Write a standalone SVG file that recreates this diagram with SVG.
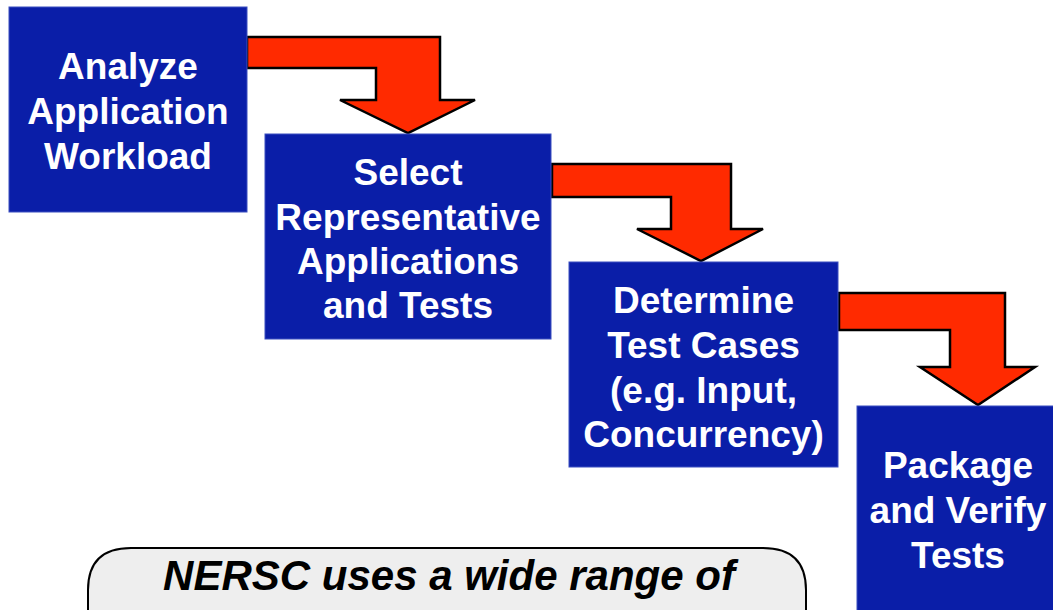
<svg xmlns="http://www.w3.org/2000/svg" width="1053" height="610" viewBox="0 0 1053 610">
<style>
.node{fill:#0A1EA8;stroke:#3A4EC0;stroke-width:1}
.lbl{font-family:"Liberation Sans",Arial,sans-serif;font-weight:bold;font-size:37px;fill:#ffffff;text-anchor:middle}
.arr{fill:#FF2A00;stroke:#000000;stroke-width:2.5;stroke-linejoin:miter}
.note{fill:#EEEEEE;stroke:#000000;stroke-width:2}
.notetxt{font-family:"Liberation Sans",Arial,sans-serif;font-weight:bold;font-style:italic;font-size:42px;fill:#000000;text-anchor:middle}
</style>
<rect width="1053" height="610" fill="#ffffff"/>
<g id="connectors">
<path class="arr" d="M247,37 L440,37 L440,100 L475,100 L408,133 L340,100 L376,100 L376,68 L247,68 Z"/>
<path class="arr" d="M552,164 L731,164 L731,229 L763,229 L701,261 L637,229 L671,229 L671,197 L552,197 Z"/>
<path class="arr" d="M839,293 L1005,293 L1005,367 L1035,367 L978,405 L920,367 L950,367 L950,330 L839,330 Z"/>
</g>
<g id="node1">
<rect class="node" x="9" y="7" width="238" height="205"/>
<text class="lbl" x="128" y="79">Analyze</text>
<text class="lbl" x="128" y="124">Application</text>
<text class="lbl" x="128" y="169">Workload</text>
</g>
<g id="node2">
<rect class="node" x="265" y="134" width="286" height="205"/>
<text class="lbl" x="408" y="185">Select</text>
<text class="lbl" x="408" y="230">Representative</text>
<text class="lbl" x="408" y="274">Applications</text>
<text class="lbl" x="408" y="318">and Tests</text>
</g>
<g id="node3">
<rect class="node" x="569" y="262" width="269" height="205"/>
<text class="lbl" x="703.5" y="313">Determine</text>
<text class="lbl" x="703.5" y="358">Test Cases</text>
<text class="lbl" x="703.5" y="403">(e.g. Input,</text>
<text class="lbl" x="703.5" y="447">Concurrency)</text>
</g>
<g id="node4">
<rect class="node" x="857" y="406" width="205" height="215"/>
<text class="lbl" x="958" y="478">Package</text>
<text class="lbl" x="958" y="523">and Verify</text>
<text class="lbl" x="958" y="568">Tests</text>
</g>
<g id="note">
<path class="note" d="M88,640 L88,590 Q88,548 131,548 L763,548 Q806,548 806,590 L806,640"/>
<text class="notetxt" x="449" y="590">NERSC uses a wide range of</text>
</g>
</svg>
